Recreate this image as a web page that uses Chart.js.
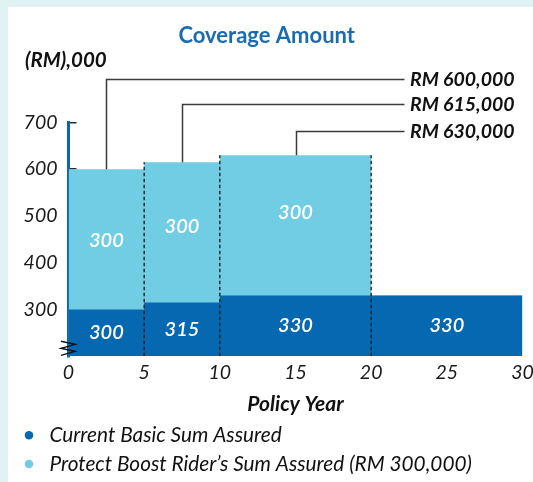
<!DOCTYPE html>
<html>
<head>
<meta charset="utf-8">
<title>Coverage Amount</title>
<script src="https://cdn.jsdelivr.net/npm/chart.js@4.4.1/dist/chart.umd.min.js"></script>
<style>
  html, body { margin: 0; padding: 0; background: #e1f2f7; }
  #wrap { position: absolute; left: 0; top: 0; width: 533px; height: 482px; }
</style>
</head>
<body>
<div id="wrap"><canvas id="coverageChart" width="533" height="482"></canvas></div>
<script>
/* Datos del gráfico */

const yearBreaks = [0, 5, 10, 20, 30];        // límites de cada periodo (año de póliza)
const basicSum = [300, 315, 330, 330];        // Current Basic Sum Assured (RM '000) por periodo
const riderSum = [300, 300, 300, 0];          // Protect Boost Rider (RM '000) por periodo
const calloutLabels = ["RM 600,000", "RM 615,000", "RM 630,000"];
const xTicks = [0, 5, 10, 15, 20, 25, 30];
const yTicks = [300, 400, 500, 600, 700];
const axisBase = 200;                         // eje cortado
const axisTop = 700;

const seriesNames = ["Current Basic Sum Assured", "Protect Boost Rider\u2019s Sum Assured (RM 300,000)"];

const DARK = "#0568b1";
const LIGHT = "#71cde3";
const FONT = "Lato";

/* Puntos escalonados: un punto al inicio de cada periodo + cierre en el último año */

const stepPoints = (values) => yearBreaks.map((x, i) => ({x: x, y: values[Math.min(i, values.length - 1)]}));

const totals = basicSum.map((b, i) => b + riderSum[i]);

// líneas punteadas en los cambios de periodo (hasta la barra más alta a cada lado)
const dashPoints = [];
for (let i = 1; i < yearBreaks.length - 1; i++) {
    const top = Math.max(totals[i - 1], totals[i]);
    dashPoints.push({x: yearBreaks[i], y: axisBase}, {x: yearBreaks[i], y: top}, {x: yearBreaks[i], y: null});
}

/* Plugin: fondo, etiquetas de valores, llamadas y corte del eje */

const decoPlugin = {
    id: "deco",
    beforeDraw(chart) {
        const ctx = chart.ctx;
        ctx.save();
        ctx.fillStyle = "#e1f2f7";
        ctx.fillRect(0, 0, chart.width, chart.height);
        ctx.fillStyle = "#ffffff";
        ctx.fillRect(8, 7, chart.width - 8, chart.height - 7);
        ctx.restore();
    },
    afterDatasetsDraw(chart) {
        const ctx = chart.ctx;
        const xs = chart.scales.x;
        const ys = chart.scales.y;
        const area = chart.chartArea;
        ctx.save();

        // valores dentro de las barras
        ctx.fillStyle = "#ffffff";
        ctx.font = "italic 600 20px " + FONT;
        ctx.textAlign = "center";
        ctx.textBaseline = "middle";
        const riderShift = [1, -6, -13];
        basicSum.forEach((v, i) => {
            const xm = xs.getPixelForValue((yearBreaks[i] + yearBreaks[i + 1]) / 2);
            const yb = (ys.getPixelForValue(axisBase) + ys.getPixelForValue(v)) / 2;
            ctx.fillText(String(v), xm, yb);
            if (riderSum[i] > 0) {
                const yr = (ys.getPixelForValue(v) + ys.getPixelForValue(totals[i])) / 2 + riderShift[i];
                ctx.fillText(String(riderSum[i]), xm, yr);
            }
        });

        // llamadas con el total
        const rows = [area.top - 43, area.top - 18, area.top + 8.5];
        ctx.strokeStyle = "#3a3a3a";
        ctx.lineWidth = 1.5;
        ctx.font = "italic bold 19.5px " + FONT;
        ctx.fillStyle = "#111111";
        ctx.textAlign = "left";
        calloutLabels.forEach((txt, i) => {
            const xm = Math.round(xs.getPixelForValue((yearBreaks[i] + yearBreaks[i + 1]) / 2)) + 0.5;
            const yt = ys.getPixelForValue(totals[i]);
            const ry = Math.round(rows[i]) + 0.5;
            ctx.beginPath();
            ctx.moveTo(xm, yt);
            ctx.lineTo(xm, ry);
            ctx.lineTo(area.right - 118, ry);
            ctx.stroke();
            ctx.fillText(txt, area.right - 112.5, ry);
        });

        // unidad del eje y
        ctx.font = "italic bold 20.5px " + FONT;
        ctx.fillText("(RM),000", 25, 60);

        // símbolo de eje cortado
        const yb = ys.getPixelForValue(axisBase);
        ctx.strokeStyle = "#111111";
        ctx.lineWidth = 1.4;
        ctx.beginPath();
        ctx.moveTo(61, yb - 15);
        ctx.lineTo(75, yb - 12);
        ctx.lineTo(61, yb - 8);
        ctx.lineTo(75, yb - 5);
        ctx.lineTo(61, yb - 1);
        ctx.stroke();

        ctx.restore();
    }
};

/* Configuración */

const config = {
    type: "line",
    data: {
        datasets: [
            {
                label: seriesNames[0],
                data: stepPoints(basicSum),
                stepped: "before",
                fill: "start",
                backgroundColor: DARK,
                borderColor: "rgba(0,0,0,0)",
                borderWidth: 0,
                pointRadius: 0,
                order: 1
            },
            {
                label: seriesNames[1],
                data: stepPoints(totals),
                stepped: "before",
                fill: "start",
                backgroundColor: LIGHT,
                borderColor: "rgba(0,0,0,0)",
                borderWidth: 0,
                pointRadius: 0,
                order: 2
            },
            {
                label: "divisiones",
                data: dashPoints,
                spanGaps: false,
                fill: false,
                borderColor: "#151515",
                borderWidth: 1.3,
                borderDash: [3.5, 2.5],
                pointRadius: 0,
                order: 0
            }
        ]
    },
    options: {
        responsive: false,
        animation: false,
        events: [],
        layout: {padding: {left: 11, right: 10.5, top: 0, bottom: -2.5}},
        scales: {
            x: {
                type: "linear",
                min: 0,
                max: 30,
                afterBuildTicks: (s) => { s.ticks = xTicks.map((v) => ({value: v})); },
                afterFit: (s) => { s.paddingRight = 0; s.paddingLeft = 0; },
                border: {display: false},
                grid: {display: false, drawTicks: false},
                ticks: {padding: 4.5, color: "#1a1a1a", font: {family: FONT, style: "italic", size: 19.5}},
                title: {
                    display: true,
                    text: "Policy Year",
                    color: "#111111",
                    font: {family: FONT, style: "italic", weight: "bold", size: 21},
                    padding: {top: 3, bottom: 0}
                }
            },
            y: {
                min: axisBase,
                max: axisTop,
                z: 1,
                afterFit: (s) => { s.width = 57.5; },
                afterBuildTicks: (s) => { s.ticks = yTicks.map((v) => ({value: v})); },
                border: {display: true, color: DARK, width: 3},
                grid: {drawOnChartArea: false, drawTicks: true, tickLength: -8, color: "#2a2a2a", lineWidth: 1.5},
                ticks: {padding: 19, color: "#1a1a1a", font: {family: FONT, style: "italic", size: 19.5}}
            }
        },
        plugins: {
            title: {
                display: true,
                text: "Coverage Amount",
                color: "#1a6bb0",
                font: {family: FONT, size: 22, weight: "bold"},
                padding: {top: 23, bottom: 73}
            },
            legend: {
                position: "bottom",
                align: "start",
                labels: {
                    usePointStyle: true,
                    pointStyle: "circle",
                    boxWidth: 20,
                    boxHeight: 6,
                    padding: 8,
                    color: "#111111",
                    font: {family: FONT, style: "italic", size: 20.8},
                    filter: (item) => item.datasetIndex < 2
                }
            },
            tooltip: {enabled: false}
        }
    },
    plugins: [decoPlugin]
};

const coverageChart = new Chart(document.getElementById("coverageChart"), config);
</script>
</body>
</html>
